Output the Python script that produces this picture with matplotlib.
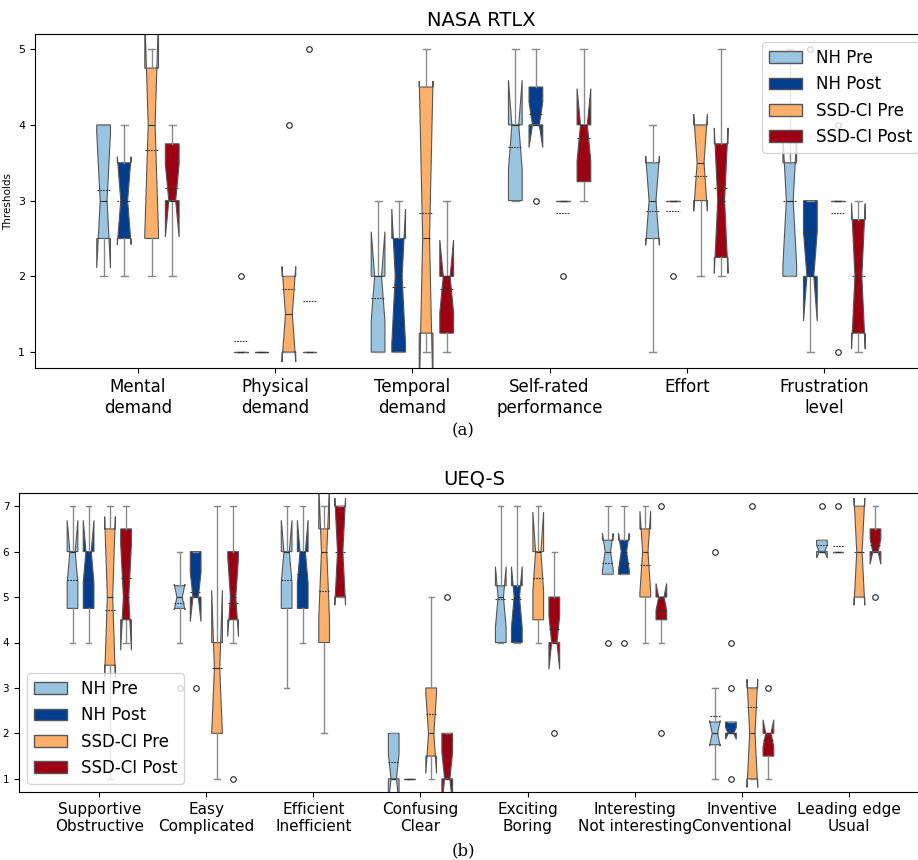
import numpy as np
import matplotlib.pyplot as plt
from matplotlib.patches import Patch

# series / colours
series = ['NH Pre', 'NH Post', 'SSD-CI Pre', 'SSD-CI Post']
colors = ['#99c5e3', '#023d8e', '#feb06a', '#9c0012']
offsets = [-0.25, -0.1, 0.1, 0.25]

# ---- NASA RTLX (rows = categories, cols = series) ----
nasa_cats = ['Mental\ndemand', 'Physical\ndemand', 'Temporal\ndemand',
             'Self-rated\nperformance', 'Effort', 'Frustration\nlevel']
nasa_q1 = [[2.5, 2.5, 2.5, 3], [1, 1, 1, 1], [1, 1, 1.25, 1.25],
           [3, 4, 3, 3.25], [2.5, 3, 3, 2.25], [2, 2, 3, 1.25]]
nasa_med = [[3, 3, 4, 3], [1, 1, 1.5, 1], [2, 2, 2.5, 2],
            [4, 4, 3, 4], [3, 3, 3.5, 3], [3, 2, 3, 2]]
nasa_q3 = [[4, 3.5, 4.75, 3.75], [1, 1, 2, 1], [2, 2.5, 4.5, 2],
           [4, 4.5, 3, 4], [3.5, 3, 4, 3.75], [3.5, 3, 3, 2.75]]
nasa_lo = [[2, 2, 2, 2], [1, 1, 1, 1], [1, 1, 1, 1],
           [3, 4, 3, 3], [1, 3, 2, 2], [2, 1, 3, 1]]
nasa_hi = [[4, 4, 5, 4], [1, 1, 2, 1], [3, 3, 5, 3],
           [5, 5, 3, 5], [4, 3, 4, 5], [5, 3, 3, 3]]
nasa_mean = [[3.14, 3.0, 3.67, 3.17], [1.14, 1.0, 1.83, 1.67], [1.71, 1.86, 2.83, 1.83],
             [3.71, 4.14, 2.83, 3.83], [2.86, 2.86, 3.33, 3.17], [3.0, 2.57, 2.83, 2.0]]
nasa_cilo = [[2.11, 2.42, 2.56, 2.52], [1, 1, 0.87, 1], [1.41, 1.11, 0.42, 1.52],
             [3.41, 3.70, 3, 3.52], [2.41, 3, 2.86, 2.04], [2.15, 1.41, 3, 1.04]]
nasa_cihi = [[3.89, 3.58, 5.44, 3.48], [1, 1, 2.13, 1], [2.59, 2.89, 4.58, 2.48],
             [4.59, 4.30, 3, 4.48], [3.59, 3, 4.14, 3.96], [3.85, 2.59, 3, 2.96]]
nasa_fliers = [[[], [], [], []], [[2], [], [4], [5]], [[], [], [], []],
               [[], [3], [2], []], [[], [2], [], []], [[], [5], [1, 4], []]]

# ---- UEQ-S ----
ueq_cats = ['Supportive\nObstructive', 'Easy\nComplicated', 'Efficient\nInefficient',
            'Confusing\nClear', 'Exciting\nBoring', 'Interesting\nNot interesting',
            'Inventive\nConventional', 'Leading edge\nUsual']
ueq_q1 = [[4.75, 4.75, 3.5, 4.5], [4.75, 5, 2, 4.5], [4.75, 4.75, 4, 5], [1, 1, 1.5, 1],
          [4, 4, 4.5, 4], [5.5, 5.5, 5, 4.5], [1.75, 2, 1, 1.5], [6, 6, 5, 6]]
ueq_med = [[6, 6, 5, 5], [5, 5, 3.43, 5], [6, 6, 6, 6], [1, 1, 2, 1],
           [5, 5, 6, 4], [6, 6, 6, 5], [2, 2, 2, 2], [6, 6, 6, 6]]
ueq_q3 = [[6, 6, 6.5, 6.5], [5.25, 6, 4, 6], [6, 6, 6.5, 7], [2, 1, 3, 2],
          [5.25, 5.25, 6, 5], [6.25, 6.25, 6.5, 5], [2.25, 2.25, 3, 2], [6.25, 6, 7, 6.5]]
ueq_lo = [[4, 4, 1, 4], [4, 5, 1, 4], [3, 4, 2, 5], [1, 1, 1, 1],
          [4, 4, 4, 4], [5.5, 5.5, 4, 4], [1, 2, 1, 1], [6, 6, 5, 6]]
ueq_hi = [[7, 7, 7, 7], [6, 6, 7, 7], [7, 7, 7, 7], [2, 1, 5, 2],
          [7, 7, 7, 6], [7, 7, 7, 5], [3, 2.25, 3, 2], [6.25, 6, 7, 7]]
ueq_mean = [[5.37, 5.37, 4.71, 5.43], [4.88, 5.12, 3.43, 4.86], [5.37, 5.5, 5.14, 6.0],
            [1.38, 1.0, 2.43, 1.86], [4.96, 4.96, 5.43, 4.29], [5.75, 5.75, 5.71, 4.71],
            [2.38, 2.0, 2.57, 1.86], [6.14, 6.13, 6.0, 6.14]]
ueq_cilo = [[5.31, 5.31, 3.23, 3.83], [4.72, 4.46, 2.0, 4.13], [5.31, 5.31, 4.52, 4.82],
            [0.45, 1, 1.12, 0.41], [4.33, 4.33, 5.13, 3.41], [5.6, 5.6, 5.11, 4.7],
            [1.72, 1.87, 0.81, 1.7], [5.86, 6, 4.82, 5.72]]
ueq_cihi = [[6.69, 6.69, 6.77, 6.17], [5.28, 5.54, 5.15, 5.87], [6.69, 6.69, 7.48, 7.18],
            [1.55, 1, 2.88, 1.59], [5.67, 5.67, 6.87, 4.59], [6.4, 6.4, 6.89, 5.3],
            [2.28, 2.13, 3.19, 2.3], [6.14, 6, 7.18, 6.28]]
ueq_fliers = [[[], [], [], []], [[3], [3], [], [1]], [[], [], [], []], [[], [], [], [5]],
              [[], [], [], [2]], [[4], [4], [], [7, 2]], [[6], [1, 3, 4], [7], [3]],
              [[7], [7], [], [5]]]


def draw_boxes(ax, cats, q1, med, q3, lo, hi, mean, cilo, cihi, fliers):
    n = len(cats)
    for j in range(4):
        stats = []
        for i in range(n):
            stats.append(dict(q1=q1[i][j], med=med[i][j], q3=q3[i][j],
                              whislo=lo[i][j], whishi=hi[i][j], mean=mean[i][j],
                              cilo=cilo[i][j], cihi=cihi[i][j], fliers=fliers[i][j]))
        ax.bxp(stats, positions=np.arange(1, n + 1) + offsets[j], widths=0.1,
               shownotches=True, showmeans=True, meanline=True, patch_artist=True,
               boxprops=dict(facecolor=colors[j], edgecolor='#555555', linewidth=0.8),
               whiskerprops=dict(color='#8a8a8a', linewidth=1),
               capprops=dict(color='#8a8a8a', linewidth=1),
               medianprops=dict(color='#333333', linewidth=0.8),
               meanprops=dict(color='#333333', linewidth=0.8, linestyle=(0, (1.5, 1))),
               flierprops=dict(marker='o', markerfacecolor='none', markeredgecolor='#222222',
                               markersize=4, markeredgewidth=0.8))
    ax.set_xlim(0.25, n + 0.75)
    ax.set_xticks(np.arange(1, n + 1))
    handles = [Patch(facecolor=c, edgecolor='#555555', label=s) for c, s in zip(colors, series)]
    return handles


fig = plt.figure(figsize=(9.18, 8.6), dpi=100)

ax1 = fig.add_axes([35 / 918, 1 - 368 / 860, 892 / 918, 334 / 860])
h = draw_boxes(ax1, nasa_cats, nasa_q1, nasa_med, nasa_q3, nasa_lo, nasa_hi,
               nasa_mean, nasa_cilo, nasa_cihi, nasa_fliers)
ax1.set_ylim(0.79, 5.2)
ax1.set_yticks([1, 2, 3, 4, 5])
ax1.set_xticklabels(nasa_cats, fontsize=12)
ax1.tick_params(axis='y', labelsize=8)
ax1.set_ylabel('Thresholds', fontsize=7.5)
ax1.set_title('NASA RTLX', fontsize=14)
ax1.legend(handles=h, loc='upper right', fontsize=12)

ax2 = fig.add_axes([19 / 918, 1 - 792 / 860, 910 / 918, 299 / 860])
h = draw_boxes(ax2, ueq_cats, ueq_q1, ueq_med, ueq_q3, ueq_lo, ueq_hi,
               ueq_mean, ueq_cilo, ueq_cihi, ueq_fliers)
ax2.set_ylim(0.71, 7.29)
ax2.set_yticks([1, 2, 3, 4, 5, 6, 7])
ax2.set_xticklabels(ueq_cats, fontsize=11)
ax2.tick_params(axis='y', labelsize=7.5)
ax2.set_title('UEQ-S', fontsize=14)
ax2.legend(handles=h, loc='lower left', fontsize=12)

fig.text(463 / 918, 1 - 431 / 860, '(a)', ha='center', va='center', fontsize=12, family='DejaVu Serif')
fig.text(463 / 918, 1 - 851 / 860, '(b)', ha='center', va='center', fontsize=12, family='DejaVu Serif')

fig.savefig('out.png', dpi=100)
